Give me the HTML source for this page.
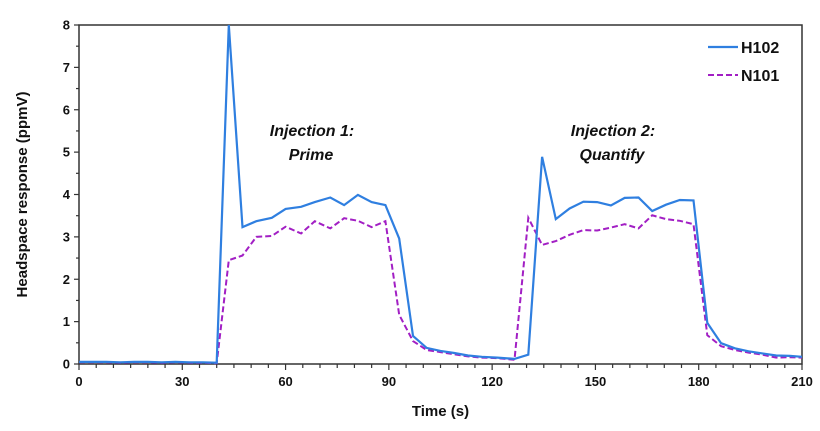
<!DOCTYPE html>
<html><head><meta charset="utf-8"><style>
body{margin:0;background:#fff;}
svg{display:block;font-family:"Liberation Sans",Arial,sans-serif;}
</style></head><body>
<svg id="chart" width="820" height="431">
</svg>
<script>
const times=[0,4,8,12,16,20,24,28,32,36,40,43.5,47.5,51.5,56,60,64.5,68.5,73,77,81,85,89,93,97,101,105,109,113,117,121.5,126.5,130.5,134.5,138.5,142.5,146.5,150.5,154.5,158.5,162.5,166.5,170.5,174.5,178.5,182.5,186.5,190.5,194.5,198.5,202.5,206.5,210];
const h102=[.05,.05,.05,.04,.05,.05,.04,.05,.04,.04,.03,8.0,3.23,3.37,3.45,3.66,3.71,3.82,3.93,3.75,3.99,3.82,3.75,2.96,.66,.38,.31,.26,.2,.17,.15,.12,.22,4.89,3.42,3.67,3.83,3.82,3.74,3.92,3.93,3.61,3.76,3.87,3.86,.97,.49,.37,.3,.25,.2,.19,.17];
const n101=[.04,.04,.04,.03,.04,.04,.03,.04,.03,.03,.02,2.45,2.56,3.0,3.02,3.24,3.08,3.37,3.2,3.44,3.38,3.23,3.37,1.16,.54,.33,.28,.23,.18,.15,.14,.1,3.45,2.81,2.9,3.05,3.16,3.15,3.22,3.3,3.2,3.51,3.42,3.38,3.3,.68,.42,.33,.27,.22,.15,.16,.15];
const xTicks=[0,30,60,90,120,150,180,210];
const yTicks=[0,1,2,3,4,5,6,7,8];

const svg=document.getElementById('chart');
const NS='http://www.w3.org/2000/svg';
const X0=79,X1=802,Y0=364,Y1=25;
const sx=t=>X0+(t/210)*(X1-X0);
const sy=v=>Y0-(v/8)*(Y0-Y1);
function mk(tag,attrs,parent){const e=document.createElementNS(NS,tag);for(const k in attrs)e.setAttribute(k,attrs[k]);(parent||svg).appendChild(e);return e;}

const frame=mk('rect',{x:X0,y:Y1,width:X1-X0,height:Y0-Y1,fill:'none',stroke:'#333','stroke-width':1.5});



// y ticks
for(let v=0;v<=8;v+=0.5){
  const t=mk('line',{x1:X0-(v%1===0?5:3),x2:X0,y1:sy(v),y2:sy(v),stroke:'#333','stroke-width':1.2});
  
  
}
yTicks.forEach(v=>{
  const l=mk('text',{x:X0-9,y:sy(v)+4.5,'text-anchor':'end','font-size':13,'font-weight':'bold',fill:'#111'});
  l.textContent=v;
  
  
});
// x ticks
for(let t=0;t<=210;t+=5){
  const tk=mk('line',{x1:sx(t),x2:sx(t),y1:Y0,y2:Y0+(t%30===0?6:4),stroke:'#333','stroke-width':1.2});
  
  
}
xTicks.forEach(t=>{
  const l=mk('text',{x:sx(t),y:Y0+22,'text-anchor':'middle','font-size':13,'font-weight':'bold',fill:'#111'});
  l.textContent=t;
  
  
});

const xt=mk('text',{x:(X0+X1)/2,y:416,'text-anchor':'middle','font-size':15,'font-weight':'bold',fill:'#111'});
xt.textContent='Time (s)';


const yt=mk('text',{x:0,y:0,'text-anchor':'middle','font-size':15,'font-weight':'bold',fill:'#111',transform:`translate(27,${(Y0+Y1)/2}) rotate(-90)`});
yt.textContent='Headspace response (ppmV)';



function pts(vals){return vals.map((v,i)=>sx(times[i]).toFixed(1)+','+sy(v).toFixed(1)).join(' ');}
const ln=mk('polyline',{points:pts(n101),fill:'none',stroke:'#a21fc4','stroke-width':2,'stroke-dasharray':'6,3'});


const lh=mk('polyline',{points:pts(h102),fill:'none',stroke:'#2f7fe0','stroke-width':2.2});



// legend
const lg1=mk('line',{x1:708,x2:738,y1:47,y2:47,stroke:'#2f7fe0','stroke-width':2.2});


const lt1=mk('text',{x:741,y:53,'font-size':16,'font-weight':'bold',fill:'#111'});
lt1.textContent='H102';


const lg2=mk('line',{x1:708,x2:738,y1:75,y2:75,stroke:'#a21fc4','stroke-width':2,'stroke-dasharray':'6,3'});


const lt2=mk('text',{x:741,y:81,'font-size':16,'font-weight':'bold',fill:'#111'});
lt2.textContent='N101';



// annotations
[['Injection 1:',312,136,'annotation-injection-1'],['Prime',311,160,'annotation-prime'],['Injection 2:',613,136,'annotation-injection-2'],['Quantify',612,160,'annotation-quantify']].forEach(a=>{
  const e=mk('text',{x:a[1],y:a[2],'text-anchor':'middle','font-size':16,'font-weight':'bold','font-style':'italic',fill:'#111'});
  e.textContent=a[0];
  
  
});
</script>
</body></html>
